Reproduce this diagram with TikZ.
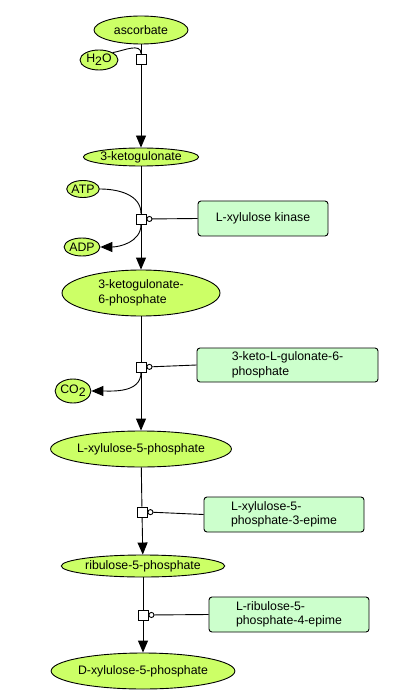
\documentclass[tikz,border=0pt]{standalone}
\usepackage{fontspec}
\setmainfont{Liberation Sans}
\usetikzlibrary{arrows.meta, shapes.geometric, positioning}

\definecolor{metfill}{RGB}{204,255,102}
\definecolor{enzfill}{RGB}{204,255,204}
\newcommand{\lowsub}[1]{\raisebox{-3pt}{#1}}

\begin{document}
\begin{tikzpicture}[x=1pt,y=-1pt,>={Triangle[length=12pt,width=10pt]},
      line width=0.9pt,font=\fontsize{12.3}{14.5}\selectfont,
      met/.style={ellipse,draw,fill=metfill,inner sep=0pt},
      enz/.style={rectangle,rounded corners=3pt,draw,fill=enzfill,
        align=left,inner sep=0pt},
      rxn/.style={rectangle,draw,fill=white,minimum size=10pt,inner sep=0pt},
      mod/.style={-{Circle[open,length=6pt,width=6pt]}}]
  \useasboundingbox (0,0) rectangle (400,700);
  % metabolites
  \node[met,minimum width=94pt,minimum height=28pt] (asc) at (141,30) {ascorbate};
  \node[met,minimum width=38pt,minimum height=20pt] (h2o) at (99,60) {H\lowsub{2}O};
  \node[met,minimum width=96pt,minimum height=18pt] (kg) at (141,157) {3-ketogulonate};
  \node[met,minimum width=30pt,minimum height=17pt] (atp) at (83,189) {ATP};
  \node[met,minimum width=34pt,minimum height=18pt] (adp) at (82,247) {ADP};
  \node[met,minimum width=158pt,minimum height=46pt,align=left] (kgp) at (141,293)
    {3-ketogulonate-\\6-phosphate};
  \node[met,minimum width=30pt,minimum height=24pt] (co2) at (73,391) {CO\lowsub{2}};
  \node[met,minimum width=180pt,minimum height=36pt] (xlp) at (141,449) {L-xylulose-5-phosphate};
  \node[met,minimum width=128pt,minimum height=22pt] (rbp) at (143,566) {ribulose-5-phosphate};
  \node[met,minimum width=146pt,minimum height=36pt] (dxp) at (143,671) {D-xylulose-5-phosphate};
  % reactions
  \node[rxn] (r1) at (141,59) {};
  \node[rxn] (r2) at (141,219) {};
  \node[rxn] (r3) at (141,367) {};
  \node[rxn] (r4) at (142,512) {};
  \node[rxn] (r5) at (143,615) {};
  % enzymes
  \node[enz,minimum width=130pt,minimum height=35pt] (e2) at (263,218.5) {L-xylulose kinase};
  \node[enz,minimum width=181pt,minimum height=34pt] (e3) at (287.5,365)
    {3-keto-L-gulonate-6-\\phosphate};
  \node[enz,minimum width=160pt,minimum height=35pt] (e4) at (284,514.5)
    {L-xylulose-5-\\phosphate-3-epime};
  \node[enz,minimum width=160pt,minimum height=35pt] (e5) at (289,614.5)
    {L-ribulose-5-\\phosphate-4-epime};
  % main chain
  \draw (asc) -- (r1);
  \draw[->] (r1) -- (kg);
  \draw (kg) -- (r2);
  \draw[->] (r2) -- (kgp);
  \draw (kgp) -- (r3);
  \draw[->] (r3) -- (xlp);
  \draw (xlp) -- (r4);
  \draw[->] (r4) -- (rbp);
  \draw (rbp) -- (r5);
  \draw[->] (r5) -- (dxp);
  % side compounds
  \draw (h2o.north east) to[out=10,in=90] (r1.north);
  \draw (atp.east) to[out=0,in=90] (r2.north);
  \draw[->] (r2.south) to[out=-90,in=0] (adp.east);
  \draw[->] (r3.south) to[out=-90,in=0] (co2.east);
  % modifiers
  \draw[mod] (e2.west) -- (r2.east);
  \draw[mod] (e3.west) -- (r3.east);
  \draw[mod] (e4.west) -- (r4.east);
  \draw[mod] (e5.west) -- (r5.east);
\end{tikzpicture}
\end{document}
